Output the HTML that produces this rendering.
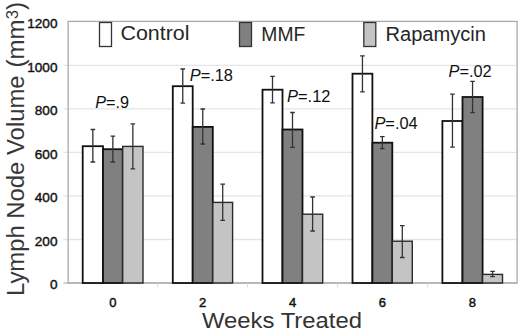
<!DOCTYPE html>
<html><head><meta charset="utf-8"><style>
html,body{margin:0;padding:0;background:#fff;width:520px;height:330px;overflow:hidden}
svg{display:block;font-family:"Liberation Sans",sans-serif}
</style></head><body>
<svg width="520" height="330" viewBox="0 0 520 330">
<line x1="63.5" y1="65.3" x2="517" y2="65.3" stroke="#e5e5e5" stroke-width="1.3"/>
<line x1="63.5" y1="108.8" x2="517" y2="108.8" stroke="#e5e5e5" stroke-width="1.3"/>
<line x1="63.5" y1="152.4" x2="517" y2="152.4" stroke="#e5e5e5" stroke-width="1.3"/>
<line x1="63.5" y1="195.9" x2="517" y2="195.9" stroke="#e5e5e5" stroke-width="1.3"/>
<line x1="63.5" y1="239.5" x2="517" y2="239.5" stroke="#e5e5e5" stroke-width="1.3"/>
<rect x="68.1" y="21.4" width="449" height="261.6" fill="none" stroke="#aaaaaa" stroke-width="1.3"/>
<line x1="63.5" y1="283" x2="517" y2="283" stroke="#a8a8a8" stroke-width="1.2"/>
<line x1="157.6" y1="283" x2="157.6" y2="287.5" stroke="#d8d8d8" stroke-width="1"/>
<line x1="247.6" y1="283" x2="247.6" y2="287.5" stroke="#d8d8d8" stroke-width="1"/>
<line x1="337.6" y1="283" x2="337.6" y2="287.5" stroke="#d8d8d8" stroke-width="1"/>
<line x1="427.6" y1="283" x2="427.6" y2="287.5" stroke="#d8d8d8" stroke-width="1"/>
<rect x="82.70" y="146.2" width="20.30" height="136.80" fill="#ffffff" stroke="#111" stroke-width="1.8"/>
<rect x="103.00" y="149.2" width="19.70" height="133.80" fill="#808080" stroke="#111" stroke-width="1.8"/>
<rect x="122.70" y="146.4" width="20.30" height="136.60" fill="#c4c4c4" stroke="#2a2a2a" stroke-width="1.4"/>
<rect x="172.80" y="86.2" width="19.90" height="196.80" fill="#ffffff" stroke="#111" stroke-width="1.8"/>
<rect x="192.70" y="126.9" width="20.10" height="156.10" fill="#808080" stroke="#111" stroke-width="1.8"/>
<rect x="212.80" y="202.4" width="19.80" height="80.60" fill="#c4c4c4" stroke="#2a2a2a" stroke-width="1.4"/>
<rect x="262.50" y="89.7" width="20.00" height="193.30" fill="#ffffff" stroke="#111" stroke-width="1.8"/>
<rect x="282.50" y="129.5" width="20.00" height="153.50" fill="#808080" stroke="#111" stroke-width="1.8"/>
<rect x="302.50" y="214.2" width="20.20" height="68.80" fill="#c4c4c4" stroke="#2a2a2a" stroke-width="1.4"/>
<rect x="352.50" y="73.7" width="19.90" height="209.30" fill="#ffffff" stroke="#111" stroke-width="1.8"/>
<rect x="372.40" y="142.7" width="19.90" height="140.30" fill="#808080" stroke="#111" stroke-width="1.8"/>
<rect x="392.30" y="241.2" width="20.00" height="41.80" fill="#c4c4c4" stroke="#2a2a2a" stroke-width="1.4"/>
<rect x="442.40" y="121" width="20.10" height="162.00" fill="#ffffff" stroke="#111" stroke-width="1.8"/>
<rect x="462.50" y="97" width="20.10" height="186.00" fill="#808080" stroke="#111" stroke-width="1.8"/>
<rect x="482.60" y="274.4" width="19.90" height="8.60" fill="#c4c4c4" stroke="#2a2a2a" stroke-width="1.4"/>
<path d="M92.85 129.5V162M90.55 129.5h4.6M90.55 162h4.6" stroke="#333" stroke-width="1.3" fill="none"/>
<path d="M112.85 136.1V162M110.55 136.1h4.6M110.55 162h4.6" stroke="#333" stroke-width="1.3" fill="none"/>
<path d="M132.85 123.8V168.8M130.55 123.8h4.6M130.55 168.8h4.6" stroke="#333" stroke-width="1.3" fill="none"/>
<path d="M182.75 69V103.2M180.45 69h4.6M180.45 103.2h4.6" stroke="#333" stroke-width="1.3" fill="none"/>
<path d="M202.75 109V144M200.45 109h4.6M200.45 144h4.6" stroke="#333" stroke-width="1.3" fill="none"/>
<path d="M222.70 184.2V220.4M220.40 184.2h4.6M220.40 220.4h4.6" stroke="#333" stroke-width="1.3" fill="none"/>
<path d="M272.50 76.4V102.8M270.20 76.4h4.6M270.20 102.8h4.6" stroke="#333" stroke-width="1.3" fill="none"/>
<path d="M292.50 112.5V147.3M290.20 112.5h4.6M290.20 147.3h4.6" stroke="#333" stroke-width="1.3" fill="none"/>
<path d="M312.60 197V231M310.30 197h4.6M310.30 231h4.6" stroke="#333" stroke-width="1.3" fill="none"/>
<path d="M362.45 55.8V91.8M360.15 55.8h4.6M360.15 91.8h4.6" stroke="#333" stroke-width="1.3" fill="none"/>
<path d="M382.35 136.7V148.7M380.05 136.7h4.6M380.05 148.7h4.6" stroke="#333" stroke-width="1.3" fill="none"/>
<path d="M402.30 225.6V257.5M400.00 225.6h4.6M400.00 257.5h4.6" stroke="#333" stroke-width="1.3" fill="none"/>
<path d="M452.45 94.2V147.2M450.15 94.2h4.6M450.15 147.2h4.6" stroke="#333" stroke-width="1.3" fill="none"/>
<path d="M472.55 81.4V112.7M470.25 81.4h4.6M470.25 112.7h4.6" stroke="#333" stroke-width="1.3" fill="none"/>
<path d="M492.55 271.4V276.6M490.25 271.4h4.6M490.25 276.6h4.6" stroke="#333" stroke-width="1.3" fill="none"/>
<text x="57.5" y="27.6" text-anchor="end" font-size="13.6" fill="#111" stroke="#111" stroke-width="0.4">1200</text>
<text x="57.5" y="71.5" text-anchor="end" font-size="13.6" fill="#111" stroke="#111" stroke-width="0.4">1000</text>
<text x="57.5" y="115.0" text-anchor="end" font-size="13.6" fill="#111" stroke="#111" stroke-width="0.4">800</text>
<text x="57.5" y="158.6" text-anchor="end" font-size="13.6" fill="#111" stroke="#111" stroke-width="0.4">600</text>
<text x="57.5" y="202.1" text-anchor="end" font-size="13.6" fill="#111" stroke="#111" stroke-width="0.4">400</text>
<text x="57.5" y="245.7" text-anchor="end" font-size="13.6" fill="#111" stroke="#111" stroke-width="0.4">200</text>
<text x="57.5" y="289.2" text-anchor="end" font-size="13.6" fill="#111" stroke="#111" stroke-width="0.4">0</text>
<text x="112.8" y="307" text-anchor="middle" font-size="13" fill="#111" stroke="#111" stroke-width="0.45">0</text>
<text x="202.7" y="307" text-anchor="middle" font-size="13" fill="#111" stroke="#111" stroke-width="0.45">2</text>
<text x="292.6" y="307" text-anchor="middle" font-size="13" fill="#111" stroke="#111" stroke-width="0.45">4</text>
<text x="382.4" y="307" text-anchor="middle" font-size="13" fill="#111" stroke="#111" stroke-width="0.45">6</text>
<text x="472.4" y="307" text-anchor="middle" font-size="13" fill="#111" stroke="#111" stroke-width="0.45">8</text>
<text x="202" y="327.8" font-size="22" fill="#333" textLength="160" lengthAdjust="spacingAndGlyphs">Weeks Treated</text>
<g fill="#383838" font-size="23"><text transform="translate(24 296.0) rotate(-90)" textLength="220.6" lengthAdjust="spacingAndGlyphs">Lymph Node Volume</text><text transform="translate(24 67.5) rotate(-90)" textLength="65.5" lengthAdjust="spacingAndGlyphs">(mm<tspan font-size="16" dy="-6">3</tspan><tspan dy="6">)</tspan></text></g>
<text x="95.2" y="108.4" font-size="16.8" fill="#111" textLength="33.8" lengthAdjust="spacingAndGlyphs"><tspan font-style="italic">P</tspan>=.9</text>
<text x="189.7" y="81.2" font-size="16.8" fill="#111" textLength="43.3" lengthAdjust="spacingAndGlyphs"><tspan font-style="italic">P</tspan>=.18</text>
<text x="287.0" y="102.10000000000001" font-size="16.8" fill="#111" textLength="43.5" lengthAdjust="spacingAndGlyphs"><tspan font-style="italic">P</tspan>=.12</text>
<text x="374.4" y="128.70000000000002" font-size="16.8" fill="#111" textLength="43.3" lengthAdjust="spacingAndGlyphs"><tspan font-style="italic">P</tspan>=.04</text>
<text x="448.5" y="76.9" font-size="16.8" fill="#111" textLength="43.099999999999994" lengthAdjust="spacingAndGlyphs"><tspan font-style="italic">P</tspan>=.02</text>
<rect x="99.5" y="22.5" width="12" height="24" fill="#ffffff" stroke="#333" stroke-width="1.3"/>
<text x="120.5" y="40.3" font-size="20" fill="#262626" textLength="69" lengthAdjust="spacingAndGlyphs">Control</text>
<rect x="239.5" y="22.5" width="12" height="24" fill="#808080" stroke="#333" stroke-width="1.3"/>
<text x="261.3" y="41.0" font-size="20" fill="#262626" textLength="44" lengthAdjust="spacingAndGlyphs">MMF</text>
<rect x="363.8" y="22.5" width="12" height="24" fill="#c4c4c4" stroke="#333" stroke-width="1.3"/>
<text x="385.5" y="41.4" font-size="20" fill="#262626" textLength="100.5" lengthAdjust="spacingAndGlyphs">Rapamycin</text>
</svg>
</body></html>
